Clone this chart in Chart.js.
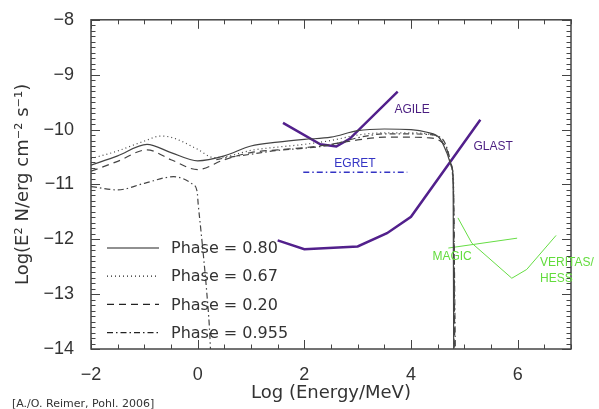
<!DOCTYPE html>
<html>
<head>
<meta charset="utf-8">
<script src="https://cdn.jsdelivr.net/npm/chart.js@4.4.1/dist/chart.umd.min.js"></script>
<style>
  html, body { margin: 0; padding: 0; background: #fff; }
  #wrap { width: 599px; height: 409px; }
</style>
</head>
<body>
<div id="wrap"><canvas id="sed"></canvas></div>
<script>
// Log(Energy/MeV) vs Log(E^2 N)
const X_TICKS = [-2, 0, 2, 4, 6];
const Y_TICKS = [-14, -13, -12, -11, -10, -9, -8];

const PHASE_080 = [
  [-2, -10.65], [-1.5, -10.48], [-0.95, -10.27], [-0.5, -10.42], [0, -10.57],
  [0.5, -10.48], [1.0, -10.3], [1.5, -10.23], [2.0, -10.18], [2.5, -10.14],
  [3.0, -10.02], [3.5, -9.99], [4.0, -10.0], [4.3, -10.05], [4.54, -10.16],
  [4.67, -10.42], [4.76, -10.65], [4.79, -10.9], [4.8, -14]
];
const PHASE_067 = [
  [-2, -10.53], [-1.5, -10.39], [-1.0, -10.21], [-0.7, -10.12], [-0.5, -10.14],
  [0, -10.36], [0.3, -10.51], [0.5, -10.5], [1.0, -10.38], [1.5, -10.32],
  [2.0, -10.27], [2.5, -10.2], [3.0, -10.1], [3.5, -10.06], [4.0, -10.06],
  [4.3, -10.08], [4.55, -10.17], [4.68, -10.38], [4.77, -10.7], [4.8, -11.0], [4.81, -14]
];
const PHASE_020 = [
  [-2, -10.76], [-1.5, -10.58], [-0.95, -10.37], [-0.5, -10.55], [0, -10.73],
  [0.5, -10.55], [1.0, -10.42], [1.5, -10.37], [2.0, -10.33], [2.5, -10.27],
  [3.0, -10.19], [3.5, -10.14], [4.0, -10.14], [4.3, -10.15], [4.55, -10.21],
  [4.68, -10.38], [4.77, -10.75], [4.8, -11.2], [4.82, -14]
];
const PHASE_0955_LOW = [
  [-2, -11.04], [-1.5, -11.1], [-1.0, -10.98], [-0.45, -10.86], [-0.09, -11.0],
  [-0.01, -11.13], [0.01, -11.36], [0.06, -11.83], [0.12, -12.42], [0.17, -12.96],
  [0.22, -13.6], [0.24, -14]
];
const PHASE_0955_HIGH = [
  [0.35, -10.55], [0.5, -10.52], [1.0, -10.45], [1.5, -10.38], [2.0, -10.34],
  [2.5, -10.28], [3.0, -10.15], [3.5, -10.08], [4.0, -10.08], [4.3, -10.09],
  [4.5, -10.12], [4.64, -10.25], [4.73, -10.55], [4.78, -10.85], [4.8, -11.3], [4.83, -14]
];

const AGILE = [[1.6, -9.88], [2.3, -10.27], [2.6, -10.31], [2.85, -10.17], [3.75, -9.31]];
const GLAST = [[1.5, -12.02], [2.0, -12.18], [3.0, -12.13], [3.55, -11.89], [4.0, -11.59], [5.3, -9.82]];
const EGRET = [[1.98, -10.78], [3.93, -10.78]];
const MAGIC = [[4.7, -12.16], [5.99, -11.98]];
const VERITAS_HESS = [[4.88, -11.61], [5.14, -12.07], [5.89, -12.71], [6.17, -12.55], [6.72, -11.93]];

const PHASE_NAMES = ['Phase = 0.80', 'Phase = 0.67', 'Phase = 0.20', 'Phase = 0.955'];

// instrument labels: [text, x, y, colour, align]
const NOTES = [
  ['AGILE', 4.02, -9.63, '#4a1d80', 'center'],
  ['GLAST', 5.54, -10.32, '#4a1d80', 'center'],
  ['EGRET', 2.95, -10.62, '#3434c4', 'center'],
  ['MAGIC', 4.77, -12.32, '#62dc3c', 'center'],
  ['VERITAS/', 6.42, -12.42, '#62dc3c', 'left'],
  ['HESS', 6.42, -12.72, '#62dc3c', 'left']
];

const CURVE = '#444';
const PURPLE = '#52208c';

function pts(arr) {
  return arr.map(p => ({ x: p[0], y: p[1] }));
}

function fmt(v) {
  return (v < 0 ? '\u2212' : '') + Math.abs(v);
}

const phaseDs = (label, data, dash) => ({
  label: label,
  data: data,
  borderColor: CURVE,
  borderWidth: 1.2,
  borderDash: dash,
  pointRadius: 0,
  cubicInterpolationMode: 'monotone',
  isPhase: true
});

const datasets = [
  phaseDs(PHASE_NAMES[0], pts(PHASE_080), []),
  phaseDs(PHASE_NAMES[1], pts(PHASE_067), [1, 3]),
  phaseDs(PHASE_NAMES[2], pts(PHASE_020), [7, 5]),
  phaseDs(PHASE_NAMES[3], pts(PHASE_0955_LOW).concat([{ x: 0.3, y: null }], pts(PHASE_0955_HIGH)), [6, 3, 1.5, 3]),
  { label: 'AGILE', data: pts(AGILE), borderColor: PURPLE, borderWidth: 2.5, pointRadius: 0, tension: 0 },
  { label: 'GLAST', data: pts(GLAST), borderColor: PURPLE, borderWidth: 2.5, pointRadius: 0, tension: 0 },
  { label: 'EGRET', data: pts(EGRET), borderColor: '#3434c4', borderWidth: 1.5, borderDash: [6, 3, 1.5, 3], pointRadius: 0 },
  { label: 'MAGIC', data: pts(MAGIC), borderColor: '#66dd44', borderWidth: 1, pointRadius: 0 },
  { label: 'VERITAS/HESS', data: pts(VERITAS_HESS), borderColor: '#66dd44', borderWidth: 1, pointRadius: 0 }
];

const frame = {
  id: 'frame',
  afterDatasetsDraw(chart) {
    const { ctx, chartArea: a, scales: { x, y } } = chart;
    ctx.save();
    ctx.strokeStyle = '#444';
    ctx.lineWidth = 1.5;
    ctx.strokeRect(a.left, a.top, a.right - a.left, a.bottom - a.top);

    ctx.lineWidth = 1;
    ctx.beginPath();
    // x ticks every 0.5, long ones on the labelled values
    for (let v = x.min; v <= x.max + 1e-6; v += 0.5) {
      const px = Math.round(x.getPixelForValue(v)) + 0.5;
      const len = X_TICKS.includes(v) ? 9 : 4.5;
      ctx.moveTo(px, a.bottom); ctx.lineTo(px, a.bottom - len);
      ctx.moveTo(px, a.top); ctx.lineTo(px, a.top + len);
    }
    for (let i = 0; i <= 60; i++) {
      const v = y.min + i * 0.1;
      const py = Math.round(y.getPixelForValue(v)) + 0.5;
      const len = i % 10 === 0 ? 9 : 4.5;
      ctx.moveTo(a.left, py); ctx.lineTo(a.left + len, py);
      ctx.moveTo(a.right, py); ctx.lineTo(a.right - len, py);
    }
    ctx.stroke();

    // instrument names
    ctx.font = '12px "Liberation Sans", Arial, sans-serif';
    ctx.textBaseline = 'middle';
    NOTES.forEach(n => {
      ctx.fillStyle = n[3];
      ctx.textAlign = n[4];
      ctx.fillText(n[0], x.getPixelForValue(n[1]), y.getPixelForValue(n[2]));
    });

    // phase legend inside the plot
    ctx.font = '16px "DejaVu Sans", sans-serif';
    ctx.textAlign = 'left';
    const rows = chart.data.datasets.filter(d => d.isPhase);
    rows.forEach((d, i) => {
      const ly = 248 + i * 28.2;
      ctx.beginPath();
      ctx.strokeStyle = '#222';
      ctx.lineWidth = 1.2;
      ctx.setLineDash(d.borderDash);
      ctx.moveTo(a.left + 16, ly);
      ctx.lineTo(a.left + 68, ly);
      ctx.stroke();
      ctx.setLineDash([]);
      ctx.fillStyle = '#333';
      ctx.fillText(d.label, a.left + 80, ly + 1);
    });

    ctx.font = '11px "DejaVu Sans", sans-serif';
    ctx.fillStyle = '#333';
    ctx.fillText('[A./O. Reimer, Pohl. 2006]', 12, 404);
    ctx.restore();
  }
};

new Chart(document.getElementById('sed'), {
  type: 'line',
  data: { datasets: datasets },
  options: {
    responsive: true,
    maintainAspectRatio: false,
    animation: false,
    parsing: false,
    layout: { padding: { top: 10, right: 28, left: 0, bottom: 0 } },
    plugins: { legend: { display: false }, tooltip: { enabled: false } },
    elements: { line: { fill: false } },
    scales: {
      x: {
        type: 'linear',
        min: -2,
        max: 7,
        afterBuildTicks(s) { s.ticks = X_TICKS.map(v => ({ value: v })); },
        afterFit(s) { s.height = 60; },
        grid: { display: false },
        border: { display: false },
        ticks: {
          autoSkip: false,
          maxRotation: 0,
          padding: 7,
          color: '#333',
          font: { family: '"Liberation Sans", Arial, sans-serif', size: 18 },
          callback: v => fmt(v)
        },
        title: {
          display: true,
          text: 'Log (Energy/MeV)',
          color: '#333',
          font: { family: '"DejaVu Sans", sans-serif', size: 18 },
          padding: { top: 0, bottom: 5 }
        }
      },
      y: {
        type: 'linear',
        min: -14,
        max: -8,
        afterBuildTicks(s) { s.ticks = Y_TICKS.map(v => ({ value: v })); },
        afterFit(s) { s.width = 91; },
        grid: { display: false },
        border: { display: false },
        ticks: {
          autoSkip: false,
          padding: 9,
          color: '#333',
          font: { family: '"Liberation Sans", Arial, sans-serif', size: 18 },
          callback: v => fmt(v)
        },
        title: {
          display: true,
          text: 'Log(E\u00b2 N/erg cm\u207b\u00b2 s\u207b\u00b9)',
          color: '#333',
          font: { family: '"DejaVu Sans", sans-serif', size: 18 },
          padding: { top: 13, bottom: 0 }
        }
      }
    }
  },
  plugins: [frame]
});
</script>
</body>
</html>
